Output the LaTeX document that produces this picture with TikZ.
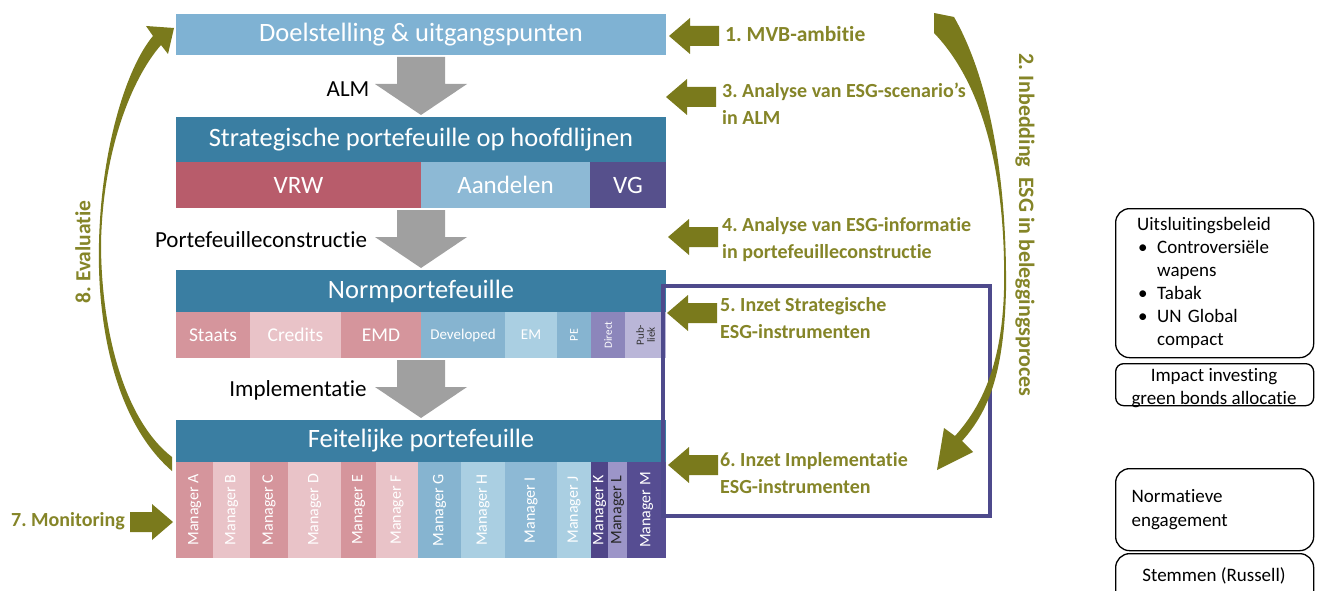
\documentclass[tikz,border=0pt]{standalone}
\usepackage{fontspec}
\setmainfont{Carlito}[Ligatures=NoCommon]
\usetikzlibrary{calc}
\frenchspacing
\definecolor{cDoel}{HTML}{7FB2D3}
\definecolor{cHead}{HTML}{3A7EA2}
\definecolor{cVRW}{HTML}{B85C6B}
\definecolor{cAand}{HTML}{8DB9D5}
\definecolor{cVG}{HTML}{56508C}
\definecolor{cPinkD}{HTML}{D5959C}
\definecolor{cPinkL}{HTML}{E9C3C8}
\definecolor{cBlueD}{HTML}{86B4D0}
\definecolor{cBlueL}{HTML}{AACFE2}
\definecolor{cBlueM}{HTML}{8DB9D5}
\definecolor{cPurD}{HTML}{8C86BB}
\definecolor{cPurL}{HTML}{BAB6D8}
\definecolor{cK}{HTML}{4F4588}
\definecolor{cL}{HTML}{9C95C8}
\definecolor{cM}{HTML}{564D92}
\definecolor{cFrame}{HTML}{4E4A8C}
\definecolor{cOlive}{HTML}{7A7A1C}
\definecolor{cOliveT}{HTML}{858528}
\definecolor{cGray}{HTML}{A0A0A0}
\tikzset{
  hdr/.style={inner sep=0, outer sep=0, text=white, minimum width=490, font=\fontsize{26.5}{31}\selectfont},
  cell/.style={inner sep=0, outer sep=0, text=white},
  mgr/.style={cell, rotate=90, minimum width=96, font=\fontsize{16}{19}\selectfont},
  grayarr/.style={fill=cGray},
  olivefill/.style={fill=cOlive},
  olab/.style={text=cOliveT, font=\bfseries\fontsize{20}{27}\selectfont, align=left, inner sep=0},
  blab/.style={text=black, font=\fontsize{23}{27}\selectfont, inner sep=0},
  rbox/.style={draw=black, line width=1.3, rounded corners=14, inner sep=0, font=\fontsize{19}{23}\selectfont},
  btext/.style={inner sep=0, font=\fontsize{19}{23}\selectfont},
  frame/.style={draw=cFrame, line width=4}
}
\newcommand\grayarr[2]{%
  \fill[grayarr] ($(#1)+(-24,2)$) -- ($(#1)+(24,2)$) -- ($(#1)+(24,29)$) -- ($(#1)+(46,29)$)
    -- ($(#2)+(0,-2)$) -- ($(#1)+(-46,29)$) -- ($(#1)+(-24,29)$) -- cycle;}
\newcommand\oarrL[1]{%
  \fill[olivefill] (#1) -- ++(21,-18) -- ++(0,8) -- ++(29,0) -- ++(0,20) -- ++(-29,0) -- ++(0,8) -- cycle;}
\newcommand\oarrR[1]{%
  \fill[olivefill] (#1) -- ++(-21,-18) -- ++(0,8) -- ++(-22,0) -- ++(0,20) -- ++(22,0) -- ++(0,8) -- cycle;}
\begin{document}
\begin{tikzpicture}[x=1pt,y=-1pt]
\path[use as bounding box, fill=white] (0,0) rectangle (1319,591);

% main boxes
\node[hdr, fill=cDoel, minimum height=41] (doel) at (421,34.5) {Doelstelling \& uitgangspunten};
\node[hdr, fill=cHead, minimum height=45] (strat) at (421,139.5) {Strategische portefeuille op hoofdlijnen};
\node[cell, fill=cVRW, minimum width=245, minimum height=46, font=\fontsize{25}{30}\selectfont] (vrw) at (298.5,185) {VRW};
\node[cell, fill=cAand, minimum width=169, minimum height=46, font=\fontsize{25}{30}\selectfont] (aand) at (505.5,185) {Aandelen};
\node[cell, fill=cVG, minimum width=76, minimum height=46, font=\fontsize{25}{30}\selectfont] (vg) at (628,185) {VG};

\node[hdr, fill=cHead, minimum height=42] (norm) at (421,291) {Normportefeuille};
\node[cell, fill=cPinkD, minimum width=74, minimum height=46, font=\fontsize{19.5}{24}\selectfont] (staats) at (213,335) {Staats};
\node[cell, fill=cPinkL, minimum width=91, minimum height=46, font=\fontsize{19.5}{24}\selectfont] (cred) at (295.5,335) {Credits};
\node[cell, fill=cPinkD, minimum width=80, minimum height=46, font=\fontsize{19.5}{24}\selectfont] (emd) at (381,335) {EMD};
\node[cell, fill=cBlueD, minimum width=84, minimum height=46, font=\fontsize{15}{18}\selectfont] (dev) at (463,335) {Developed};
\node[cell, fill=cBlueL, minimum width=52, minimum height=46, font=\fontsize{15}{18}\selectfont] (em) at (531,335) {EM};
\node[cell, fill=cBlueD, minimum width=46, minimum height=34, rotate=90, font=\fontsize{12}{14}\selectfont] (pe) at (574,335) {PE};
\node[cell, fill=cPurD, minimum width=46, minimum height=34, rotate=90, font=\fontsize{11}{13}\selectfont] (direct) at (608,335) {Direct};
\node[cell, fill=cPurL, minimum width=46, minimum height=41, rotate=90, text=black!80, align=center, font=\fontsize{11}{11}\selectfont] (publ) at (645.5,335) {Pub-\\liek};

\node[hdr, fill=cHead, minimum height=42] (feit) at (421,441) {Feitelijke portefeuille};
\node[mgr, fill=cPinkD, minimum height=37] (mA) at (194.5,510) {Manager A};
\node[mgr, fill=cPinkL, minimum height=37] (mB) at (231.5,510) {Manager B};
\node[mgr, fill=cPinkD, minimum height=38] (mC) at (269,510) {Manager C};
\node[mgr, fill=cPinkL, minimum height=53] (mD) at (314.5,510) {Manager D};
\node[mgr, fill=cPinkD, minimum height=35] (mE) at (358.5,510) {Manager E};
\node[mgr, fill=cPinkL, minimum height=42] (mF) at (397,510) {Manager F};
\node[mgr, fill=cBlueD, minimum height=43] (mG) at (439.5,510) {Manager G};
\node[mgr, fill=cBlueL, minimum height=44] (mH) at (483,510) {Manager H};
\node[mgr, fill=cBlueM, minimum height=52] (mI) at (531,510) {Manager I};
\node[mgr, fill=cBlueL, minimum height=34] (mJ) at (574,510) {Manager J};
\node[mgr, fill=cK, minimum height=17] (mK) at (599.5,510) {Manager K};
\node[mgr, fill=cL, minimum height=19, text=black!85] (mL) at (617.5,510) {Manager L};
\node[mgr, fill=cM, minimum height=39] (mM) at (646.5,510) {Manager M};

% grey process arrows
\grayarr{doel.south}{strat.north}
\grayarr{vrw.south east}{norm.north}
\grayarr{emd.south east}{feit.north}
\node[blab] (lalm) at (348,89) {ALM};
\node[blab] (lpc) at (261,240) {Portefeuilleconstructie};
\node[blab] (limp) at (298,390) {Implementatie};

% purple frame
\draw[frame] (663,286) rectangle (990,516);

% olive arrows and labels
\coordinate (a1) at (669,36);
\coordinate (a3) at (666,97);
\coordinate (a4) at (668,237);
\coordinate (a5) at (667,313);
\coordinate (a6) at (668,465);
\coordinate (a7) at (173,522);
\oarrL{a1}\oarrL{a3}\oarrL{a4}\oarrL{a5}\oarrL{a6}\oarrR{a7}
\node[olab, anchor=west, font=\bfseries\fontsize{21.5}{27}\selectfont] (l1) at (725,34) {1. MVB-ambitie};
\node[olab, anchor=west] (l3) at (722,104) {3. Analyse van ESG-scenario’s\\in ALM};
\node[olab, anchor=west] (l4) at (722,240) {4. Analyse van ESG-informatie\\in portefeuilleconstructie};
\node[olab, anchor=west] (l5) at (720,318) {5. Inzet Strategische\\ESG-instrumenten};
\node[olab, anchor=west] (l6) at (720,473) {6. Inzet Implementatie\\ESG-instrumenten};
\node[olab, anchor=east] (l7) at (125,521) {7. Monitoring};

% curved arrow 2 (right)
\fill[olivefill] (934,13) -- (954,17)
  .. controls (990,80) and (1007,180) .. (1006,290)
  .. controls (1004,370) and (990,410) .. (962,441)
  -- (973,452) -- (937,470) -- (944,428) -- (955,436)
  .. controls (983,405) and (1002,362) .. (1004,290)
  .. controls (1006,185) and (987,88) .. (934,33) -- cycle;
\node[olab, rotate=-90, font=\bfseries\fontsize{22}{27}\selectfont] (l2) at (1025,225) {2. Inbedding~ ESG in beleggingsproces};

% curved arrow 8 (left)
\fill[olivefill] (172,471)
  .. controls (113,420) and (97,320) .. (99,243)
  .. controls (101,150) and (126,68) .. (153,36)
  -- (146,26) -- (174,28) -- (168,54) -- (161,45)
  .. controls (132,78) and (103,150) .. (101,243)
  .. controls (101,330) and (124,420) .. (172,457) -- cycle;
\node[olab, rotate=90, font=\bfseries\fontsize{21.5}{27}\selectfont] (l8) at (83,252) {8. Evaluatie};

% right-hand boxes
\node[rbox, anchor=north west, minimum width=198, minimum height=149, text width=180, align=left] (b1) at (1115,208)
  {\hspace*{12.5pt}Uitsluitingsbeleid\\
   \makebox[32.5pt][l]{\hspace{13.5pt}•}Controversiële\\
   \hspace*{32.5pt}wapens\\
   \makebox[32.5pt][l]{\hspace{13.5pt}•}Tabak\\
   \makebox[32.5pt][l]{\hspace{13.5pt}•}UN Global\\
   \hspace*{32.5pt}compact};
\node[rbox, rounded corners=8, anchor=north west, minimum width=198, minimum height=42] (b2) at (1115,363) {};
\node[btext, align=center] (b2t) at (1214,388.5) {Impact investing\\green bonds allocatie};
\node[rbox, anchor=north west, minimum width=198, minimum height=82, text width=180, align=left, font=\fontsize{19}{24}\selectfont] (b3) at (1115,468)
  {\hspace*{7pt}Normatieve\\\hspace*{7pt}engagement};
\node[rbox, anchor=north west, minimum width=198, minimum height=60] (b4) at (1115,553) {};
\node[btext] (b4t) at (1214,576) {Stemmen (Russell)};
\end{tikzpicture}
\end{document}
